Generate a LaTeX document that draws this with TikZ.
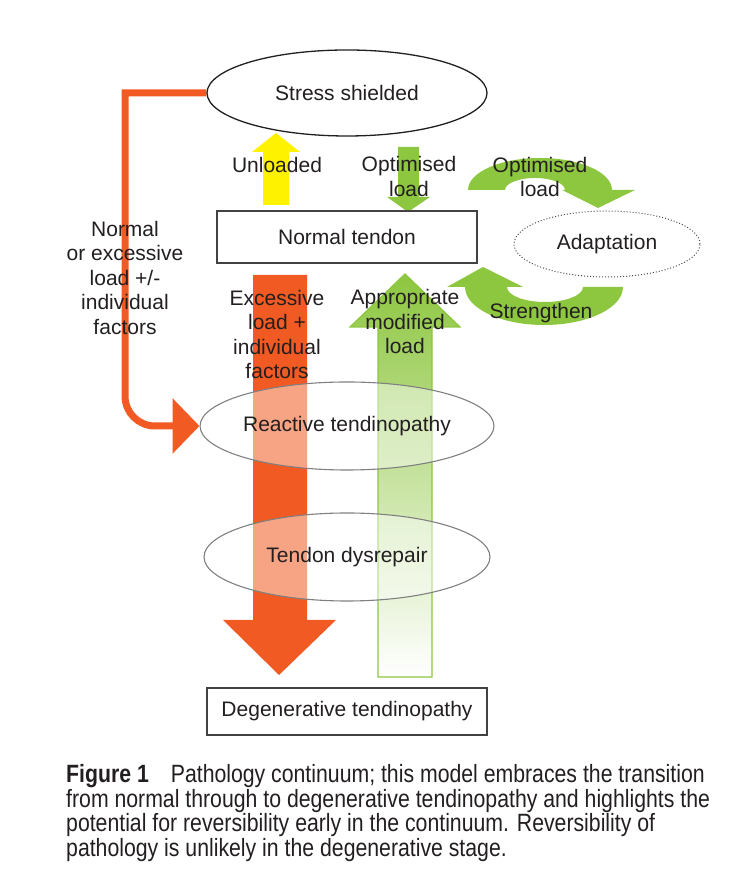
\documentclass[tikz,border=0pt]{standalone}
\usepackage{fontspec}
\setmainfont{Liberation Sans}
\newfontfamily\capfont[FakeStretch=0.85]{Liberation Sans}
\usetikzlibrary{shapes.geometric,arrows.meta}
\pgfdeclarelayer{background}
\pgfsetlayers{background,main}
\definecolor{tendonorange}{RGB}{241,90,34}
\definecolor{tendongreen}{RGB}{141,198,63}
\definecolor{tendonyellow}{RGB}{255,242,0}
\definecolor{inkgray}{RGB}{35,31,32}
\tikzset{
  flowtext/.style={align=center, text=inkgray, font=\fontsize{21}{24.5}\selectfont},
  stagebox/.style={rectangle, draw=inkgray!85, line width=1.6pt, minimum width=260pt, minimum height=52pt, inner sep=0pt},
  stageoval/.style={ellipse, draw=black!50, line width=1.1pt, fill=white, fill opacity=0.45, text opacity=1, minimum width=286pt, minimum height=88pt, inner sep=0pt}
}
\begin{document}
\begin{tikzpicture}[x=1pt,y=1pt]
\useasboundingbox (0,0) rectangle (744,888);

% stages
\node[ellipse, draw=inkgray, line width=1.3pt, fill=white, minimum width=280pt, minimum height=86pt, flowtext] (shield) at (347,795) {Stress shielded};
\node[stagebox, flowtext] (normal) at (347,651) {Normal tendon};
\node[ellipse, draw=inkgray!80, line width=1pt, dash pattern=on 1pt off 2pt, minimum width=186pt, minimum height=66pt, flowtext] (adapt) at (607,644) {Adaptation};
\node[stageoval, flowtext] (reactive) at (347,462) {Reactive tendinopathy};
\node[stageoval, flowtext] (dysrepair) at (347,331) {Tendon dysrepair};
\node[stagebox, minimum width=280pt, minimum height=47pt, flowtext] (degen) at (347,176.5) {Degenerative tendinopathy};

% block arrows
\begin{pgfonlayer}{background}
\fill[tendonyellow] (263,683) -- (289,683) -- (289,736) -- (300,736) -- (276,755) -- (252,736) -- (263,736) -- cycle;
\fill[tendongreen] (398,741) -- (419,741) -- (419,691) -- (430,691) -- (408,676) -- (387,691) -- (398,691) -- cycle;
\fill[tendonorange] (253,613) -- (307,613) -- (307,268) -- (336,268) -- (279,213) -- (223,268) -- (253,268) -- cycle;
\draw[tendongreen, line width=1.2pt, top color=tendongreen, middle color=tendongreen!50, bottom color=white] (378,211) -- (432,211) -- (432,561) -- (460,561) -- (405,614) -- (350,561) -- (378,561) -- cycle;
\fill[tendongreen] (468,698) arc[start angle=180, end angle=0, x radius=72, y radius=32] -- (635,698) -- (598,680) -- (562,698) -- (565,698) arc[start angle=0, end angle=180, x radius=30, y radius=12] -- cycle;
\fill[tendongreen] (623,601) arc[start angle=0, end angle=-180, x radius=79, y radius=38] -- (447,601) -- (483,621) -- (523,601) -- (507,601) arc[start angle=180, end angle=360, x radius=38, y radius=15] -- cycle;
\draw[tendonorange, line width=7pt, -{Triangle[width=54pt,length=27pt]}] (shield.west) -- (125,795) -- (125,492) arc[start angle=180, end angle=270, radius=30] -- (reactive.west);
\end{pgfonlayer}

% labels
\node[flowtext] (unloaded) at (277,723) {Unloaded};
\node[flowtext] (optimal) at (409,711.5) {Optimised\\load};
\node[flowtext] (optcycle) at (540,711) {Optimised\\load};
\node[flowtext] (strength) at (541,575) {Strengthen};
\node[flowtext] (overload) at (125,610) {Normal\\or excessive\\load +/-\\individual\\factors};
\node[flowtext] (excess) at (277,553.5) {Excessive\\load +\\individual\\factors};
\node[flowtext] (modified) at (405,566) {Appropriate\\modified\\load};

% caption
\node[anchor=north west, align=left, inner sep=0pt, text=inkgray, font=\capfont\fontsize{25}{24.8}\selectfont] (caption) at (66,124) {\textbf{Figure 1}\hspace{22pt}Pathology continuum; this model embraces the transition\\from normal through to degenerative tendinopathy and highlights the\\potential for reversibility early in the continuum. Reversibility of\\pathology is unlikely in the degenerative stage.};
\end{tikzpicture}
\end{document}
